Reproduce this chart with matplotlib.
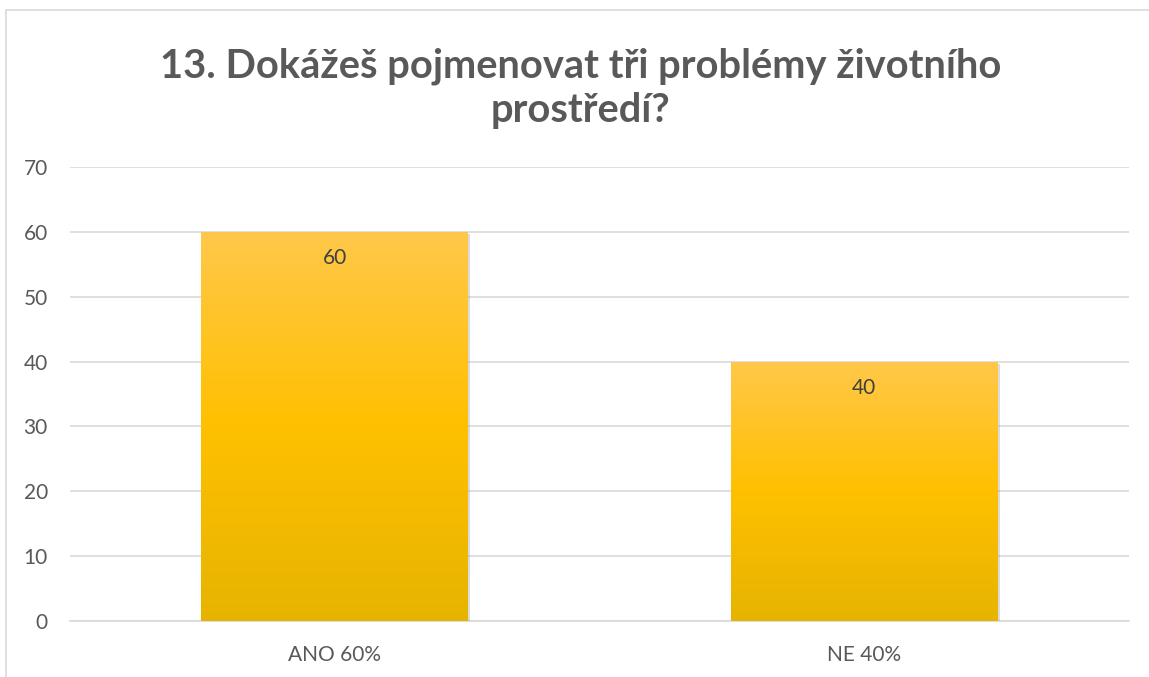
import matplotlib
matplotlib.use("Agg")
import matplotlib.pyplot as plt
import matplotlib.patheffects as pe
import numpy as np
from matplotlib.colors import LinearSegmentedColormap

# data
categories = ["ANO 60%", "NE 40%"]
values = [60, 40]
title = "13. Dokážeš pojmenovat tři problémy životního\nprostředí?"
yticks = [0, 10, 20, 30, 40, 50, 60, 70]

plt.rcParams['font.family'] = ['Lato', 'DejaVu Sans']

fig = plt.figure(figsize=(11.49, 6.77), dpi=100)
ax = fig.add_axes([70 / 1149, 1 - 621 / 677, 1059 / 1149, (621 - 167) / 677])

# chart border like the excel frame
fig.patches.append(plt.Rectangle((6 / 1149, -0.1), 1.2, 1 - 10 / 677 + 0.1,
                                 transform=fig.transFigure, fill=False,
                                 edgecolor="#D9D9D9", linewidth=1.2))

x = np.arange(len(categories))
bars = ax.bar(x, values, width=0.504, color="#FFC000", zorder=3,
              path_effects=[pe.SimplePatchShadow(offset=(1.5, -1.5), shadow_rgbFace="#999999", alpha=0.35),
                            pe.Normal()])

# gold gradient, lighter on top
gold = LinearSegmentedColormap.from_list("gold", ["#E6B400", "#FFC000", "#FFC84A"])
grad = np.linspace(0, 1, 256).reshape(-1, 1)
for b in bars:
    x0, y0 = b.get_x(), b.get_y()
    w, h = b.get_width(), b.get_height()
    im = ax.imshow(grad, cmap=gold, origin="lower", aspect="auto",
                   extent=[x0, x0 + w, y0, y0 + h], zorder=4)
    im.set_clip_path(b)

for xi, v in zip(x, values):
    ax.annotate(str(v), (xi, v), xytext=(0, -19), textcoords="offset points",
                ha="center", va="center", fontsize=15, color="#404040", zorder=5)

ax.set_xlim(-0.5, 1.5)
ax.set_ylim(0, 70)
ax.set_yticks(yticks)
ax.set_xticks(x)
ax.set_xticklabels(categories)
ax.yaxis.grid(True, color="#D9D9D9", linewidth=1.2, zorder=0)
ax.set_axisbelow(True)
for s in ["top", "right", "left"]:
    ax.spines[s].set_visible(False)
ax.spines["bottom"].set_color("#D9D9D9")
ax.spines["bottom"].set_linewidth(1.2)
ax.tick_params(axis="both", length=0, labelsize=15, labelcolor="#595959")
ax.tick_params(axis="y", pad=16)
ax.tick_params(axis="x", pad=17)

fig.text(0.505, 1 - 88 / 677, title, ha="center", va="center", fontsize=28.7,
         fontweight="bold", color="#595959", linespacing=1.22)

fig.savefig("out.png", dpi=100)
